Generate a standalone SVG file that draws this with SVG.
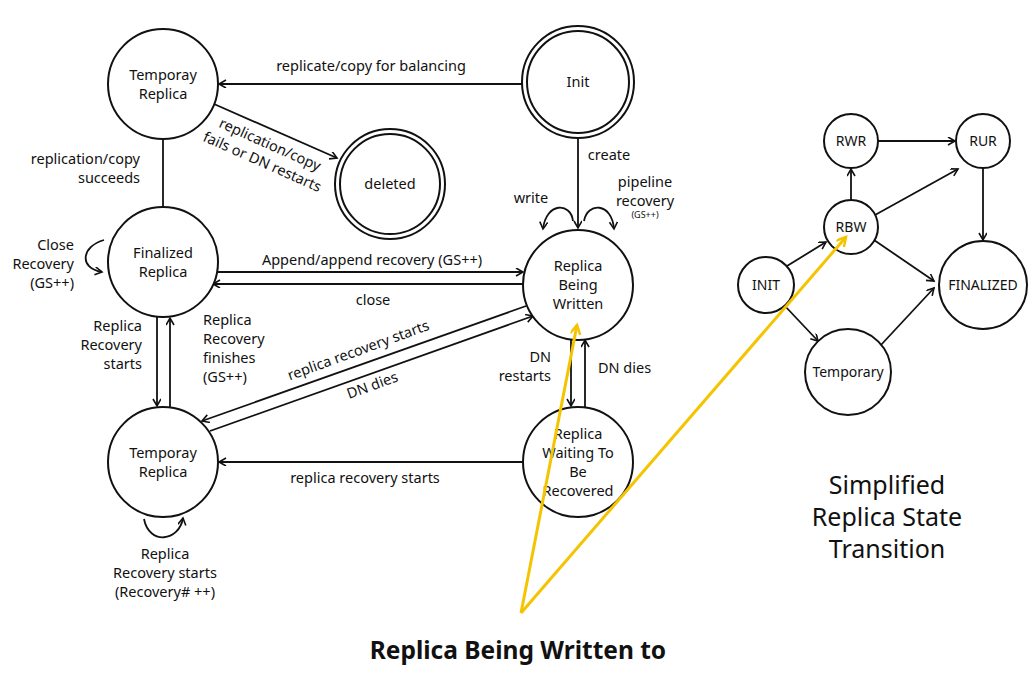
<svg xmlns="http://www.w3.org/2000/svg" width="1034" height="674" viewBox="0 0 1034 674">
<defs>
<marker id="arr" markerWidth="10" markerHeight="10" refX="8" refY="4" orient="auto" markerUnits="userSpaceOnUse">
<path d="M1,0 L8,4 L1,8" fill="none" stroke="#111" stroke-width="1.6"/>
</marker>
<marker id="yarr" markerWidth="14" markerHeight="14" refX="10" refY="5" orient="auto" markerUnits="userSpaceOnUse">
<path d="M1,0 L10,5 L1,10" fill="none" stroke="#F5C400" stroke-width="2.5"/>
</marker>
<style>
.n{fill:#fff;stroke:#111;stroke-width:2}
.t{font-family:"Noto Sans","Open Sans",sans-serif;font-size:14.5px;fill:#111;text-anchor:middle}
.s{font-family:"Noto Sans","Open Sans",sans-serif;font-size:14px;fill:#111;text-anchor:middle}
.r{text-anchor:end}
.l{text-anchor:start}
.e{fill:none;stroke:#111;stroke-width:1.8}
.a{marker-end:url(#arr)}
.y{fill:none;stroke:#F5C400;stroke-width:3;marker-end:url(#yarr)}
.big{font-family:"Noto Sans","Open Sans",sans-serif;fill:#111;text-anchor:middle}
</style>
</defs>
<rect width="1034" height="674" fill="#fff"/>

<g id="connectors">
<line class="e a" x1="522" y1="84" x2="219" y2="84"/>
<line class="e a" x1="214" y1="104" x2="337" y2="158"/>
<line class="e" x1="163" y1="139" x2="163" y2="207"/>
<line class="e a" x1="578" y1="138" x2="578" y2="228"/>
<path class="e a" d="M573,221 C571,202 546,202 543,229"/>
<path class="e a" d="M584,221 C587,202 612,202 614,229"/>
<line class="e a" x1="217" y1="272" x2="523" y2="272"/>
<line class="e a" x1="525" y1="284" x2="213" y2="284"/>
<path class="e a" d="M104,240 C82,246 78,268 102,272"/>
<line class="e a" x1="157" y1="317" x2="157" y2="406"/>
<line class="e a" x1="170" y1="408" x2="170" y2="318"/>
<line class="e a" x1="526" y1="306" x2="202" y2="421"/>
<line class="e a" x1="210" y1="431" x2="533" y2="316"/>
<line class="e a" x1="571" y1="339" x2="571" y2="406"/>
<line class="e a" x1="585" y1="407" x2="585" y2="340"/>
<line class="e a" x1="523" y1="462" x2="219" y2="462"/>
<path class="e a" d="M144,519 C149,545 179,542 183,518"/>

<line class="e a" x1="878" y1="141" x2="955" y2="141"/>
<line class="e a" x1="851" y1="200" x2="851" y2="169"/>
<line class="e a" x1="875" y1="215" x2="958" y2="169"/>
<line class="e a" x1="983" y1="168" x2="983" y2="240"/>
<line class="e a" x1="874" y1="240" x2="934" y2="281"/>
<line class="e a" x1="787" y1="266" x2="826" y2="242"/>
<line class="e a" x1="784" y1="305" x2="818" y2="341"/>
<line class="e a" x1="880" y1="346" x2="934" y2="288"/>
</g>

<g id="labels">
<text class="t" x="371" y="71">replicate/copy for balancing</text>
<g transform="translate(268,149) rotate(24)">
<text class="t" x="0" y="0">replication/copy</text>
<text class="t" x="0" y="19">fails or DN restarts</text>
</g>
<text class="t r" x="140" y="164">replication/copy</text>
<text class="t r" x="140" y="183">succeeds</text>
<text class="t" x="609" y="160">create</text>
<text class="t" x="531" y="203">write</text>
<text class="t" x="645" y="187">pipeline</text>
<text class="t" x="645" y="206">recovery</text>
<text class="t" x="645" y="218" style="font-size:9px">(GS++)</text>
<text class="t r" x="74" y="250">Close</text>
<text class="t r" x="74" y="269">Recovery</text>
<text class="t r" x="74" y="288">(GS++)</text>
<text class="t" x="372" y="265">Append/append recovery (GS++)</text>
<text class="t" x="373" y="305">close</text>
<text class="t r" x="142" y="331">Replica</text>
<text class="t r" x="142" y="350">Recovery</text>
<text class="t r" x="142" y="369">starts</text>
<text class="t l" x="203" y="325">Replica</text>
<text class="t l" x="203" y="344">Recovery</text>
<text class="t l" x="203" y="363">finishes</text>
<text class="t l" x="203" y="382">(GS++)</text>
<text class="t" transform="translate(360,355) rotate(-20)">replica recovery starts</text>
<text class="t" transform="translate(374,390) rotate(-20)">DN dies</text>
<text class="t r" x="551" y="362">DN</text>
<text class="t r" x="551" y="381">restarts</text>
<text class="t l" x="598" y="373">DN dies</text>
<text class="t" x="365" y="483">replica recovery starts</text>
<text class="t" x="165" y="559">Replica</text>
<text class="t" x="165" y="578">Recovery starts</text>
<text class="t" x="165" y="597">(Recovery# ++)</text>
</g>

<g id="n-temp-top"><circle class="n" cx="163" cy="84" r="55"/><text class="t" x="163" y="80">Temporay</text><text class="t" x="163" y="99">Replica</text></g>
<g id="n-init"><circle class="n" cx="578" cy="82" r="56"/><circle class="n" cx="578" cy="82" r="51"/><text class="t" x="578" y="87">Init</text></g>
<g id="n-deleted"><circle class="n" cx="390" cy="184" r="55"/><circle class="n" cx="390" cy="184" r="50"/><text class="t" x="390" y="189">deleted</text></g>
<g id="n-finalized"><circle class="n" cx="163" cy="262" r="55"/><text class="t" x="163" y="258">Finalized</text><text class="t" x="163" y="277">Replica</text></g>
<g id="n-rbw"><circle class="n" cx="578" cy="285" r="55"/><text class="t" x="578" y="271">Replica</text><text class="t" x="578" y="290">Being</text><text class="t" x="578" y="309">Written</text></g>
<g id="n-temp-bottom"><circle class="n" cx="163" cy="462" r="55"/><text class="t" x="163" y="458">Temporay</text><text class="t" x="163" y="477">Replica</text></g>
<g id="n-rwr"><circle class="n" cx="578" cy="462" r="55"/><text class="t" x="578" y="439">Replica</text><text class="t" x="578" y="458">Waiting To</text><text class="t" x="578" y="477">Be</text><text class="t" x="578" y="496">Recovered</text></g>

<g id="s-rwr"><circle class="n" cx="851" cy="141" r="27"/><text class="s" x="851" y="146">RWR</text></g>
<g id="s-rur"><circle class="n" cx="983" cy="141" r="27"/><text class="s" x="983" y="146">RUR</text></g>
<g id="s-rbw"><circle class="n" cx="851" cy="227" r="27"/><text class="s" x="851" y="232">RBW</text></g>
<g id="s-init"><circle class="n" cx="766" cy="285" r="28"/><text class="s" x="766" y="290">INIT</text></g>
<g id="s-finalized"><circle class="n" cx="983" cy="285" r="44"/><text class="s" x="983" y="290">FINALIZED</text></g>
<g id="s-temporary"><circle class="n" cx="848" cy="372" r="43"/><text class="s" x="848" y="377">Temporary</text></g>

<g id="callout">
<line class="y" x1="521" y1="613" x2="577" y2="325"/>
<line class="y" x1="521" y1="613" x2="846" y2="237"/>
<text class="big" x="518" y="659" style="font-size:24.5px;font-weight:bold">Replica Being Written to</text>
<text class="big" x="887" y="494" style="font-size:25px">Simplified</text>
<text class="big" x="887" y="526" style="font-size:25px">Replica State</text>
<text class="big" x="887" y="558" style="font-size:25px">Transition</text>
</g>
</svg>
